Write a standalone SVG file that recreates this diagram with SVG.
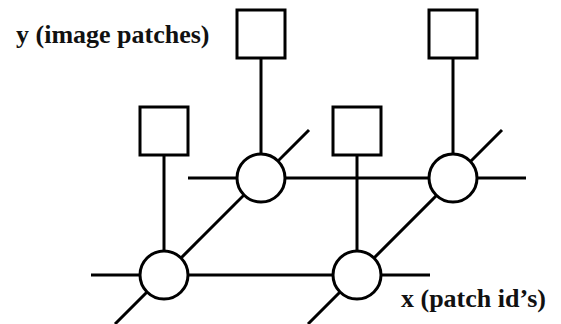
<svg xmlns="http://www.w3.org/2000/svg" width="561" height="324" viewBox="0 0 561 324">
<style>
.n{fill:#fff;stroke:#000;stroke-width:3}
.e{stroke:#000;stroke-width:3;fill:none}
.t{fill:#111}
</style>
<rect width="561" height="324" fill="#fff"/>
<g id="connectors">
<line class="e" x1="188" y1="178" x2="526" y2="178"/>
<line class="e" x1="91" y1="275" x2="430" y2="275"/>
<line class="e" x1="115" y1="324" x2="309" y2="130"/>
<line class="e" x1="308" y1="324" x2="502" y2="130"/>
<line class="e" x1="164" y1="155" x2="164" y2="251"/>
<line class="e" x1="357" y1="155" x2="357" y2="251"/>
<line class="e" x1="261" y1="58" x2="261" y2="154"/>
<line class="e" x1="453" y1="58" x2="453" y2="154"/>
</g>
<g id="y1"><rect class="n" x="237" y="10" width="48" height="48"/></g>
<g id="y2"><rect class="n" x="429" y="10" width="48" height="48"/></g>
<g id="y3"><rect class="n" x="140" y="107" width="48" height="48"/></g>
<g id="y4"><rect class="n" x="333" y="107" width="48" height="48"/></g>
<g id="x1"><circle class="n" cx="261" cy="178" r="24"/></g>
<g id="x2"><circle class="n" cx="453" cy="178" r="24"/></g>
<g id="x3"><circle class="n" cx="164" cy="275" r="24"/></g>
<g id="x4"><circle class="n" cx="357" cy="275" r="24"/></g>
<g id="label-y"><text class="t" font-family="Liberation Serif, Times New Roman, serif" font-weight="bold" font-size="26" x="16" y="43">y (image patches)</text></g>
<g id="label-x"><text class="t" font-family="Liberation Serif, Times New Roman, serif" font-weight="bold" font-size="26" x="401" y="307">x (patch id’s)</text></g>
</svg>
